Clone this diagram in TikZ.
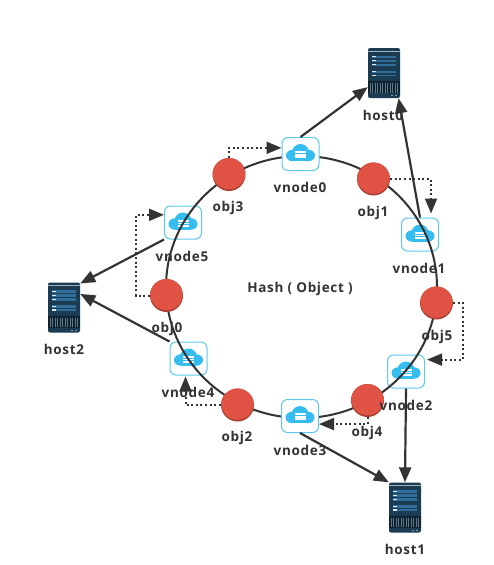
\documentclass[tikz,border=0pt]{standalone}
\usepackage{fontspec}
\setmainfont[LetterSpace=5]{Open Sans}
\usetikzlibrary{arrows.meta,shapes.geometric}
\definecolor{ink}{HTML}{333333}
\definecolor{redobj}{HTML}{E05244}
\definecolor{reddark}{HTML}{A83F33}
\definecolor{skyline}{HTML}{5CC8EE}
\definecolor{skyfill}{HTML}{35BDF0}
\definecolor{navy}{HTML}{1B3B52}
\definecolor{navydark}{HTML}{0E2433}
\definecolor{barblue}{HTML}{2F6E98}
\tikzset{
  vnodebox/.style={draw=skyline,line width=1pt,rounded corners=6pt,minimum width=37pt,minimum height=33pt,inner sep=0pt},
  vnodefilled/.style={vnodebox,fill=white},
  objdot/.style={circle,minimum size=33pt,inner sep=0pt,fill=reddark,path picture={\fill[redobj] ([yshift=1.5pt]path picture bounding box.center) circle (16.3pt);}},
  hostbox/.style={minimum width=32pt,minimum height=50pt,inner sep=0pt,fill=navy,rounded corners=2pt},
  lbl/.style={font=\fontsize{13.5}{15}\selectfont\bfseries,text=ink,inner sep=0pt,yshift=-1.5pt},
  ringline/.style={draw=ink,line width=2pt},
  link/.style={draw=ink,line width=2.2pt,-{Triangle[length=15pt,width=12pt]}},
  dots/.style={draw=ink,line width=2pt,dash pattern=on 2pt off 2.6pt,-{Triangle[length=15pt,width=12pt]}},
}
\newcommand{\cloudicon}[1]{%
  \begin{scope}[shift={(#1.center)}]
    \fill[skyfill] (-8,1.5) ellipse (6.5 and 5.7);
    \fill[skyfill] (8,1.5) ellipse (6.5 and 5.7);
    \fill[skyfill] (0,-1.5) circle (8.5);
    \fill[skyfill] (-8,0) rectangle (8,7.2);
    \fill[white] (-5.5,-3) rectangle (5.5,-0.8);
    \fill[white] (-5.5,0) rectangle (5.5,1.6);
    \fill[white] (-5.5,2.4) rectangle (5.5,4);
  \end{scope}}
\newcommand{\hosticon}[1]{%
  \begin{scope}[shift={(#1.center)}]
    \fill[white!60!navy] (-16,-22.5) rectangle (16,-22);
    \foreach \yy in {-17.5,-13.5,-9.5,-2.5}{
      \fill[barblue] (-12,\yy) rectangle (12,\yy+2.6);
      \fill[white!85!barblue] (-12,\yy+.5) rectangle (-8,\yy+1.8);
    }
    \fill[barblue] (-12,1.5) rectangle (12,3.2);
    \fill[white!85!barblue] (-12,1.7) rectangle (-8,3);
    \fill[navydark] (-16,8) rectangle (16,20);
    \foreach \xx in {-14,-11.5,...,14}{\draw[white!30!navy,line width=.5pt] (\xx,10) -- (\xx,19.5);}
    \fill[white!50!navy] (7,22) rectangle (9,22.6);
    \fill[white!50!navy] (11,22) rectangle (13,22.6);
  \end{scope}}
\begin{document}
\begin{tikzpicture}[x=1pt,y=-1pt]
\useasboundingbox[fill=white] (0,0) rectangle (494,565);
% hosts
\node[hostbox] (host0) at (384,73) {};
\node[hostbox] (host1) at (405,507.5) {};
\node[hostbox] (host2) at (64,307.5) {};
\hosticon{host0}\hosticon{host1}\hosticon{host2}
% vnodes behind the ring
\node[vnodebox] (vnode1) at (420,234.5) {};
\node[vnodebox] (vnode2) at (406,371.5) {};
\node[vnodebox] (vnode4) at (188.5,358.5) {};
\node[vnodebox] (vnode5) at (183,222.5) {};
\cloudicon{vnode1}\cloudicon{vnode2}\cloudicon{vnode4}\cloudicon{vnode5}
% ring
\node[ringline,ellipse,minimum width=271pt,minimum height=262pt,inner sep=0pt] (ring) at (301.5,287) {};
% vnodes over the ring
\node[vnodefilled] (vnode0) at (300.5,154) {};
\node[vnodefilled] (vnode3) at (300,416) {};
\cloudicon{vnode0}\cloudicon{vnode3}
% objects
\node[objdot] (obj0) at (166.5,295.5) {};
\node[objdot] (obj1) at (373.5,179) {};
\node[objdot] (obj2) at (237.5,405) {};
\node[objdot] (obj3) at (229,174.5) {};
\node[objdot] (obj4) at (367.5,400.5) {};
\node[objdot] (obj5) at (436.5,303) {};
% placement arrows
\draw[link] (vnode0.north) -- (host0.221);
\draw[link] (vnode1.north) -- (host0.-60);
\draw[link] (vnode2.south) -- (host1.north);
\draw[link] (vnode3.south) -- (host1.north west);
\draw[link] (vnode4.north west) -- (host2.40);
\draw[link] (vnode5.south west) -- (host2.56);
% mapping arrows
\draw[dots] (obj3.north) |- (vnode0.162);
\draw[dots,shorten >=4pt] (obj1.east) -| (vnode1.57);
\draw[dots,shorten >=2pt] (obj5.east) -- ++(10,0) |- (vnode2.32);
\draw[dots] (obj4.south) |- (vnode3.-23);
\draw[dots,shorten >=1pt] (obj2.west) -| (vnode4.-100);
\draw[dots] (obj0.west) -- ++(-14,0) |- (vnode5.158);
% labels
\node[lbl] (lv0) at (300,186) {vnode0};
\node[lbl] (lv1) at (419,267) {vnode1};
\node[lbl] (lv2) at (406,404) {vnode2};
\node[lbl] (lv3) at (300,449) {vnode3};
\node[lbl] (lv4) at (188,391) {vnode4};
\node[lbl] (lv5) at (182,255) {vnode5};
\node[lbl] (lo0) at (167,327) {obj0};
\node[lbl] (lo1) at (373,211) {obj1};
\node[lbl] (lo2) at (237,436) {obj2};
\node[lbl] (lo3) at (228,206) {obj3};
\node[lbl] (lo4) at (367,431) {obj4};
\node[lbl] (lo5) at (437,335) {obj5};
\node[lbl] (lh0) at (383,114) {host0};
\node[lbl] (lh1) at (405,548) {host1};
\node[lbl] (lh2) at (64,348) {host2};
\node[lbl] (hash) at (300,287) {Hash ( Object )};
\end{tikzpicture}
\end{document}
